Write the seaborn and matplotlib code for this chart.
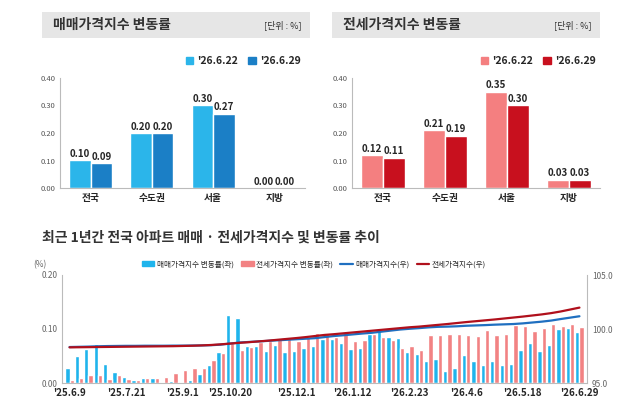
import numpy as np
import pandas as pd
import matplotlib.pyplot as plt
import seaborn as sns
from matplotlib.patches import Rectangle
from matplotlib.lines import Line2D
from matplotlib.patches import Patch

sns.set_style("white")
plt.rcParams['font.family'] = ['Noto Sans CJK KR', 'DejaVu Sans']

# top panels
regions = ["전국", "수도권", "서울", "지방"]
weeks_top = ["'26.6.22", "'26.6.29"]
sale_prev = [0.10, 0.20, 0.30, 0.00]
sale_now = [0.09, 0.20, 0.27, 0.00]
rent_prev = [0.12, 0.21, 0.35, 0.03]
rent_now = [0.11, 0.19, 0.30, 0.03]

# bottom panel (weekly)
sale_chg = [0.028, 0.050, 0.063, 0.073, 0.036, 0.021, 0.012, 0.006, 0.009, 0.009,
            0.002, 0.003, 0.001, 0.006, 0.016, 0.033, 0.058, 0.126, 0.121, 0.069,
            0.068, 0.060, 0.071, 0.058, 0.060, 0.064, 0.068, 0.082, 0.082, 0.074,
            0.063, 0.065, 0.091, 0.098, 0.085, 0.084, 0.057, 0.053, 0.041, 0.044,
            0.023, 0.028, 0.052, 0.041, 0.033, 0.040, 0.033, 0.036, 0.061, 0.075,
            0.060, 0.070, 0.100, 0.102, 0.094]
rent_chg = [0.005, 0.009, 0.015, 0.015, 0.007, 0.015, 0.007, 0.006, 0.009, 0.010,
            0.012, 0.019, 0.024, 0.027, 0.028, 0.043, 0.055, 0.075, 0.061, 0.066,
            0.076, 0.077, 0.083, 0.083, 0.078, 0.085, 0.093, 0.092, 0.085, 0.093,
            0.078, 0.080, 0.090, 0.085, 0.080, 0.065, 0.068, 0.062, 0.088, 0.088,
            0.090, 0.090, 0.089, 0.087, 0.098, 0.089, 0.090, 0.108, 0.106, 0.096,
            0.102, 0.110, 0.106, 0.110, 0.103]
sale_idx = [98.33, 98.35, 98.37, 98.40, 98.42, 98.43, 98.44, 98.44, 98.45, 98.45,
            98.45, 98.46, 98.46, 98.47, 98.48, 98.50, 98.55, 98.65, 98.75, 98.80,
            98.85, 98.90, 98.95, 99.00, 99.05, 99.10, 99.15, 99.25, 99.35, 99.42,
            99.50, 99.58, 99.65, 99.75, 99.85, 99.95, 100.02, 100.08, 100.15, 100.20,
            100.22, 100.25, 100.30, 100.33, 100.36, 100.40, 100.43, 100.46, 100.52, 100.60,
            100.68, 100.78, 100.92, 101.05, 101.18]
rent_idx = [98.30, 98.31, 98.32, 98.33, 98.34, 98.35, 98.36, 98.37, 98.38, 98.39,
            98.40, 98.41, 98.43, 98.45, 98.48, 98.52, 98.58, 98.65, 98.72, 98.78,
            98.85, 98.92, 99.00, 99.08, 99.16, 99.25, 99.35, 99.45, 99.52, 99.60,
            99.68, 99.76, 99.84, 99.92, 100.00, 100.08, 100.16, 100.22, 100.30, 100.38,
            100.46, 100.55, 100.64, 100.72, 100.80, 100.88, 100.97, 101.06, 101.15, 101.25,
            101.35, 101.47, 101.62, 101.80, 101.98]
tick_pos = [0, 6, 12, 17, 24, 30, 36, 42, 48, 54]
tick_lab = ["'25.6.9", "'25.7.21", "'25.9.1", "'25.10.20", "'25.12.1",
            "'26.1.12", "'26.2.23", "'26.4.6", "'26.5.18", "'26.6.29"]

W, H = 640, 415
fig = plt.figure(figsize=(6.4, 4.15), dpi=100)


def frac(x0, y0, x1, y1):
    return [x0 / W, 1 - y1 / H, (x1 - x0) / W, (y1 - y0) / H]


def top_panel(box, axbox, title, prev, now, cols):
    hdr = fig.add_axes(frac(*box))
    hdr.axis("off")
    hdr.add_patch(Rectangle((0, 0), 1, 1, color="#e6e6e6", transform=hdr.transAxes))
    hdr.text(0.04, 0.5, title, fontsize=10, fontweight="bold", va="center", color="#333333")
    hdr.text(0.97, 0.5, "[단위 : %]", fontsize=6.5, ha="right", va="center", color="#333333")
    ax = fig.add_axes(frac(*axbox))
    df = pd.DataFrame({"region": regions * 2, "week": [weeks_top[0]] * 4 + [weeks_top[1]] * 4,
                       "val": prev + now})
    sns.barplot(data=df, x="region", y="val", hue="week", palette=cols, ax=ax,
                width=0.7, saturation=1, legend=False)
    for c in ax.containers:
        ax.bar_label(c, fmt="%.2f", fontsize=7, fontweight="bold", padding=1)
    ax.set_ylim(0, 0.40)
    ax.set_yticks(np.arange(0, 0.41, 0.10))
    ax.set_yticklabels([f"{v:.2f}" for v in np.arange(0, 0.41, 0.10)], fontsize=5.5, color="#555555")
    ax.tick_params(axis="x", labelsize=7, length=0)
    ax.tick_params(axis="y", length=0)
    ax.set_xlabel("")
    ax.set_ylabel("")
    for t in ax.get_xticklabels():
        t.set_fontweight("bold")
    sns.despine(ax=ax)
    ax.spines["left"].set_color("#bbbbbb")
    ax.spines["bottom"].set_color("#bbbbbb")
    handles = [Patch(color=cols[0], label=weeks_top[0]), Patch(color=cols[1], label=weeks_top[1])]
    ax.legend(handles=handles, loc="lower right", bbox_to_anchor=(1.02, 1.02), ncol=2,
              frameon=False, handlelength=0.7, handleheight=0.7,
              columnspacing=1.0, handletextpad=0.4, prop={"weight": "bold", "size": 7.5})


top_panel((42, 12, 310, 38), (60, 78, 305, 188), "매매가격지수 변동률",
          sale_prev, sale_now, ["#2bb5ea", "#1b7fc6"])
top_panel((332, 12, 600, 38), (352, 78, 600, 188), "전세가격지수 변동률",
          rent_prev, rent_now, ["#f47f80", "#c8101e"])

fig.text(42 / W, 1 - 238 / H, "최근 1년간 전국 아파트 매매 · 전세가격지수 및 변동률 추이",
         fontsize=10, fontweight="bold", va="center", color="#333333")

ax = fig.add_axes(frac(62, 275, 587, 383))
n = len(sale_chg)
bdf = pd.DataFrame({"week": list(range(n)) * 2,
                    "series": ["매매가격지수 변동률(좌)"] * n + ["전세가격지수 변동률(좌)"] * n,
                    "val": sale_chg + rent_chg})
sns.barplot(data=bdf, x="week", y="val", hue="series", palette=["#1fb4ec", "#f28283"],
            ax=ax, width=0.92, saturation=1, legend=False)
ax.set_ylim(0, 0.20)
ax.set_yticks([0, 0.10, 0.20])
ax.set_yticklabels(["0.00", "0.10", "0.20"], fontsize=6, color="#666666")
ax.set_xticks(tick_pos)
ax.set_xticklabels(tick_lab, fontsize=7, fontweight="bold")
ax.tick_params(length=0)
ax.set_xlim(-0.8, n - 0.2)
ax.set_xlabel("")
ax.set_ylabel("")
ax.text(-0.03, 1.07, "(%)", transform=ax.transAxes, fontsize=6, color="#666666", ha="right")
sns.despine(ax=ax, right=False)
for s in ["left", "right", "bottom"]:
    ax.spines[s].set_color("#bbbbbb")

ax2 = ax.twinx()
ldf = pd.DataFrame({"week": list(range(n)) * 2,
                    "series": ["매매가격지수(우)"] * n + ["전세가격지수(우)"] * n,
                    "val": sale_idx + rent_idx})
sns.lineplot(data=ldf, x="week", y="val", hue="series", palette=["#1f6fc0", "#b0101c"],
             ax=ax2, linewidth=1.6, legend=False)
ax2.set_ylim(95, 105)
ax2.set_yticks([95, 100, 105])
ax2.set_yticklabels(["95.0", "100.0", "105.0"], fontsize=6, color="#666666")
ax2.tick_params(length=0)
ax2.set_ylabel("")
for s in ax2.spines.values():
    s.set_visible(False)

handles = [Patch(color="#1fb4ec", label="매매가격지수 변동률(좌)"),
           Patch(color="#f28283", label="전세가격지수 변동률(좌)"),
           Line2D([0], [0], color="#1f6fc0", lw=1.6, label="매매가격지수(우)"),
           Line2D([0], [0], color="#b0101c", lw=1.6, label="전세가격지수(우)")]
ax.legend(handles=handles, loc="lower right", bbox_to_anchor=(0.82, 1.0), ncol=4, frameon=False,
          fontsize=5.5, handlelength=1.6, handleheight=0.6, columnspacing=1.0, handletextpad=0.3)

fig.savefig("out.png", dpi=100)
